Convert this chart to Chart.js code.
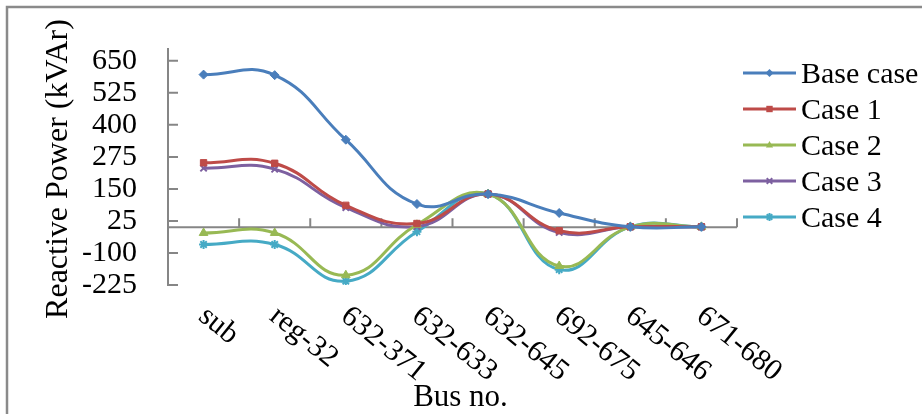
<!DOCTYPE html>
<html>
<head>
<meta charset="utf-8">
<style>
  html, body { margin: 0; padding: 0; background: #ffffff; }
  #wrap { width: 922px; height: 414px; position: relative; }
</style>
<script src="https://cdn.jsdelivr.net/npm/chart.js@4.4.0/dist/chart.umd.min.js"></script>
</head>
<body>
<div id="wrap"><canvas id="chart" width="922" height="414"></canvas></div>
<script>
// Reactive power flow per branch for each compensation case
const busLabels = ['sub', 'reg-32', '632-371', '632-633', '632-645', '692-675', '645-646', '671-680'];
const baseCase = [596, 594, 342, 91, 130, 56, 2, 2];
const case1 = [252, 250, 86, 15, 130, -13, 2, 2];
const case2 = [-22, -22, -187, 10, 130, -151, 2, 2];
const case3 = [231, 227, 77, 3, 130, -20, 2, 2];
const case4 = [-67, -67, -210, -17, 130, -165, 2, 2];
const yTicks = [-225, -100, 25, 150, 275, 400, 525, 650];
const seriesNames = ['Base case', 'Case 1', 'Case 2', 'Case 3', 'Case 4'];

const FONT = '"Liberation Serif", "Times New Roman", serif';
const AXIS_GRAY = '#868686';
const colors = ['#4A7EBB', '#BE4B48', '#98B954', '#7D60A0', '#46AAC5'];
const markers = ['rectRot', 'rect', 'triangle', 'crossRot', 'star'];
const markerSize = [4.5, 4.5, 5, 4.5, 4.5];

const seriesValues = [baseCase, case1, case2, case3, case4];
const datasets = seriesValues.map((vals, i) => ({
  label: seriesNames[i],
  data: vals,
  borderColor: colors[i],
  backgroundColor: colors[i],
  borderWidth: 3,
  tension: 0.45,
  pointStyle: markers[i],
  pointRadius: markerSize[i],
  pointHoverRadius: markerSize[i],
  pointBorderWidth: (markers[i] === 'crossRot' || markers[i] === 'star') ? 2 : 1,
  pointBorderColor: colors[i],
  pointBackgroundColor: colors[i],
  fill: false
}));

// small marker shapes for the legend keys
function drawMarker(ctx, style, x, y, r, color) {
  ctx.save();
  ctx.fillStyle = color;
  ctx.strokeStyle = color;
  ctx.lineWidth = 2;
  ctx.beginPath();
  if (style === 'rectRot') {
    ctx.moveTo(x, y - r); ctx.lineTo(x + r, y); ctx.lineTo(x, y + r); ctx.lineTo(x - r, y);
    ctx.closePath(); ctx.fill();
  } else if (style === 'rect') {
    ctx.rect(x - r * 0.8, y - r * 0.8, r * 1.6, r * 1.6); ctx.fill();
  } else if (style === 'triangle') {
    ctx.moveTo(x, y - r); ctx.lineTo(x + r * 0.9, y + r * 0.6); ctx.lineTo(x - r * 0.9, y + r * 0.6);
    ctx.closePath(); ctx.fill();
  } else if (style === 'crossRot') {
    const d = r * 0.7;
    ctx.moveTo(x - d, y - d); ctx.lineTo(x + d, y + d);
    ctx.moveTo(x + d, y - d); ctx.lineTo(x - d, y + d); ctx.stroke();
  } else {
    const d = r * 0.7;
    ctx.moveTo(x - d, y - d); ctx.lineTo(x + d, y + d);
    ctx.moveTo(x + d, y - d); ctx.lineTo(x - d, y + d);
    ctx.moveTo(x, y - r); ctx.lineTo(x, y + r); ctx.stroke();
  }
  ctx.restore();
}

const decorations = {
  id: 'decorations',
  beforeDatasetsDraw(chart) {
    const ctx = chart.ctx;
    const ys = chart.scales.y;
    const area = chart.chartArea;
    const y0 = ys.getPixelForValue(0);
    ctx.save();
    ctx.strokeStyle = AXIS_GRAY;
    ctx.lineWidth = 2;
    // category axis crossing at zero
    ctx.beginPath();
    ctx.moveTo(area.left, y0); ctx.lineTo(area.right, y0);
    ctx.stroke();
    // tick marks at the category boundaries, pointing up
    const n = busLabels.length;
    const step = (area.right - area.left) / n;
    ctx.beginPath();
    for (let i = 0; i <= n; i++) {
      const x = area.left + i * step;
      ctx.moveTo(x, y0); ctx.lineTo(x, y0 - 9);
    }
    ctx.stroke();
    // value axis tick marks, pointing inwards
    ctx.beginPath();
    ys.ticks.forEach(t => {
      const y = ys.getPixelForValue(t.value);
      ctx.moveTo(area.left, y); ctx.lineTo(area.left + 10, y);
    });
    ctx.stroke();
    ctx.restore();
  },
  afterDraw(chart) {
    const ctx = chart.ctx;
    const xs = chart.scales.x;
    const area = chart.chartArea;
    ctx.save();
    // outer frame
    ctx.strokeStyle = '#8a8a8a';
    ctx.lineWidth = 2.5;
    ctx.strokeRect(7, 7, 1200, 1200);

    ctx.fillStyle = '#000000';
    // rotated category labels below the plot
    ctx.font = '30px ' + FONT;
    ctx.textAlign = 'left';
    ctx.textBaseline = 'top';
    busLabels.forEach((lab, i) => {
      const x = xs.getPixelForValue(i);
      ctx.save();
      ctx.translate(x + 8, area.bottom + 16);
      ctx.rotate(39 * Math.PI / 180);
      ctx.fillText(lab, 0, 0);
      ctx.restore();
    });

    // axis titles
    ctx.font = '31px ' + FONT;
    ctx.textAlign = 'center';
    ctx.textBaseline = 'alphabetic';
    ctx.fillText('Bus no.', (area.left + area.right) / 2 + 8, 406);
    ctx.font = '32px ' + FONT;
    ctx.save();
    ctx.translate(67, 169);
    ctx.rotate(-Math.PI / 2);
    ctx.fillText('Reactive Power (kVAr)', 0, 0);
    ctx.restore();

    // legend
    ctx.font = '30px ' + FONT;
    ctx.textAlign = 'left';
    seriesNames.forEach((name, i) => {
      const y = 73 + i * 36;
      ctx.strokeStyle = colors[i];
      ctx.lineWidth = 3;
      ctx.beginPath();
      ctx.moveTo(743, y); ctx.lineTo(796, y);
      ctx.stroke();
      drawMarker(ctx, markers[i], 769.5, y, 4, colors[i]);
      ctx.fillStyle = '#000000';
      ctx.fillText(name, 801, y + 10);
    });
    ctx.restore();
  }
};

const whiteBg = {
  id: 'whiteBg',
  beforeDraw(chart) {
    const ctx = chart.ctx;
    ctx.save();
    ctx.fillStyle = '#ffffff';
    ctx.fillRect(0, 0, chart.width, chart.height);
    ctx.restore();
  }
};

new Chart(document.getElementById('chart'), {
  type: 'line',
  data: { labels: busLabels, datasets },
  options: {
    responsive: false,
    animation: false,
    events: [],
    layout: { padding: { left: 10, right: 185, top: 46, bottom: 129 } },
    plugins: { legend: { display: false }, tooltip: { enabled: false } },
    scales: {
      x: {
        type: 'category',
        offset: true,
        grid: { display: false },
        border: { display: false },
        ticks: { display: false },
        afterFit(s) { s.height = 0; }
      },
      y: {
        min: -225,
        max: 696,
        afterBuildTicks(s) { s.ticks = yTicks.map(v => ({ value: v })); },
        grid: { drawOnChartArea: false, drawTicks: false },
        border: { display: true, color: AXIS_GRAY, width: 2 },
        ticks: {
          color: '#000000',
          padding: 31,
          autoSkip: false,
          font: { family: FONT, size: 30 }
        },
        afterFit(s) { s.width = 158; }
      }
    }
  },
  plugins: [whiteBg, decorations]
});
</script>
</body>
</html>
